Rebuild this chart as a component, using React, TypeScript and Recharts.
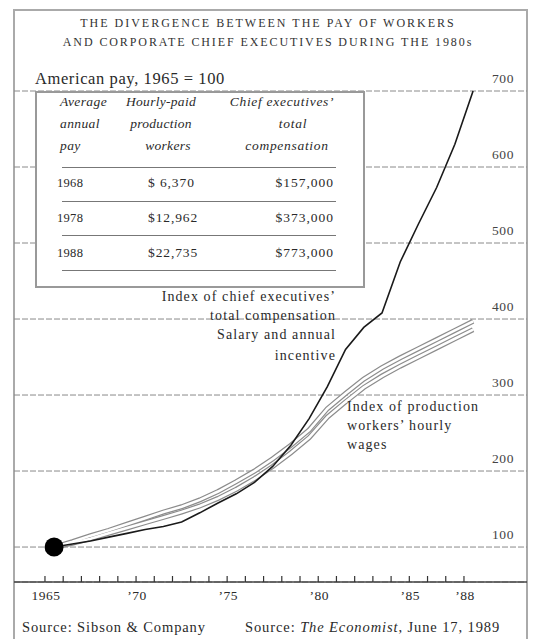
import React from 'react';
import {
  LineChart, Line, XAxis, YAxis, CartesianGrid, ReferenceDot,
} from 'recharts';

// Index values, 1965 = 100
const YEARS = [1965, 1966, 1967, 1968, 1969, 1970, 1971, 1972, 1973, 1974, 1975, 1976,
  1977, 1978, 1979, 1980, 1981, 1982, 1983, 1984, 1985, 1986, 1987, 1988];
const CEO_TOTAL = [100, 104, 108, 113, 118, 123, 127, 133, 145, 158, 170, 185,
  206, 234, 269, 311, 360, 389, 408, 475, 525, 573, 630, 700];
const SALARY_INCENTIVE = [100, 107, 115, 122, 130, 138, 146, 153, 162, 173, 186, 200,
  216, 234, 254, 282, 302, 321, 336, 349, 361, 373, 385, 397];
const WORKER_WAGES = [100, 105, 111, 118, 125, 132, 139, 146, 154, 164, 176, 190,
  206, 224, 244, 271, 291, 310, 325, 338, 350, 362, 374, 386];

// year ticks sit at the start of each year, points in the middle of it
const TICK_YEARS = [1964.5, 1965.5, 1966.5, 1967.5, 1968.5, 1969.5, 1970.5, 1971.5,
  1972.5, 1973.5, 1974.5, 1975.5, 1976.5, 1977.5, 1978.5, 1979.5, 1980.5, 1981.5,
  1982.5, 1983.5, 1984.5, 1985.5, 1986.5, 1987.5];
const TICK_LABELS: Record<string, string> = {
  '1964.5': '1965', '1969.5': '’70', '1974.5': '’75',
  '1979.5': '’80', '1984.5': '’85', '1987.5': '’88',
};
const Y_TICKS = [100, 200, 300, 400, 500, 600, 700];

// Inset table
const TABLE_YEARS = ['1968', '1978', '1988'];
const WORKER_PAY = ['$ 6,370', '$12,962', '$22,735'];
const CEO_PAY = ['$157,000', '$373,000', '$773,000'];

const data = YEARS.map((year, i) => ({
  year,
  ceo: CEO_TOTAL[i],
  salary: SALARY_INCENTIVE[i],
  workers: WORKER_WAGES[i],
}));

const SERIF = '"Liberation Serif", "DejaVu Serif", serif';
const INK = '#2a2a2a';

function Txt({ x, y, anchor = 'start', size = 14, italic = false, ls = 0.8, style, children }: any) {
  const tx = anchor === 'middle' ? '-50%' : anchor === 'end' ? '-100%' : '0';
  return (
    <div style={{
      position: 'absolute', left: x, top: y, transform: `translate(${tx}, -50%)`,
      fontFamily: SERIF, fontSize: size, fontStyle: italic ? 'italic' : 'normal',
      letterSpacing: ls, color: INK, whiteSpace: 'nowrap', lineHeight: 1, ...style,
    }}>
      {children}
    </div>
  );
}

function XTick({ x, y, payload }: any) {
  const label = TICK_LABELS[String(payload.value)];
  return (
    <g>
      <line x1={x} y1={y - 6} x2={x} y2={y} stroke="#333" strokeWidth={1.2} />
      {label && (
        <text x={x + 1} y={y + 18} textAnchor="middle" fontFamily={SERIF} fontSize={13.5}
          letterSpacing={0.5} fill={INK}>
          {label}
        </text>
      )}
    </g>
  );
}

function YTick({ x, y, payload }: any) {
  return (
    <text x={x - 13} y={y - 8} textAnchor="end" fontFamily={SERIF} fontSize={13.5}
      letterSpacing={0.6} fill="#444">
      {payload.value}
    </text>
  );
}

export default function App() {
  const ruleStyle = { position: 'absolute' as const, left: 62, width: 274, height: 0, borderTop: '1.5px solid #777' };
  return (
    <div style={{ position: 'absolute', left: 0, top: 0, width: 536, height: 639, background: '#fff', overflow: 'hidden' }}>
      {/* frame */}
      <div style={{
        position: 'absolute', left: 13, top: 9, width: 511, height: 640,
        border: '2px solid #aaa', borderBottom: 'none',
      }} />

      <div style={{ position: 'absolute', left: 0, top: 0 }}>
        <LineChart width={536} height={639} data={data} margin={{ top: 91, right: 0, bottom: 27, left: 14 }}>
          <CartesianGrid vertical={false} stroke="#8a8a8a" strokeDasharray="6 2" />
          <XAxis
            dataKey="year" type="number" domain={[1962.8, 1990.96]} allowDataOverflow
            ticks={TICK_YEARS} interval={0} height={30} tickSize={0} tickMargin={0}
            tickLine={false} axisLine={{ stroke: '#444', strokeWidth: 1.5 }} tick={<XTick />}
          />
          <YAxis
            orientation="right" type="number" domain={[54, 700]} ticks={Y_TICKS} width={9}
            tickSize={0} tickMargin={0} tickLine={false} axisLine={false} tick={<YTick />}
          />
          <Line dataKey="salary" stroke="#8c8c8c" strokeWidth={5} dot={false} isAnimationActive={false} />
          <Line dataKey="workers" stroke="#8c8c8c" strokeWidth={5} dot={false} isAnimationActive={false} />
          <Line dataKey="salary" stroke="#fff" strokeWidth={2.6} dot={false} isAnimationActive={false} />
          <Line dataKey="workers" stroke="#fff" strokeWidth={2.6} dot={false} isAnimationActive={false} />
          <Line dataKey="ceo" stroke="#1a1a1a" strokeWidth={1.6} dot={false} isAnimationActive={false} />
          <ReferenceDot x={YEARS[0]} y={CEO_TOTAL[0]} r={9.5} fill="#000" stroke="none" />
        </LineChart>
      </div>

      {/* title */}
      <Txt x={268} y={23} anchor="middle" size={12} ls={2} style={{ color: '#333' }}>
        THE DIVERGENCE BETWEEN THE PAY OF WORKERS
      </Txt>
      <Txt x={268} y={42} anchor="middle" size={12} ls={1.9} style={{ color: '#333' }}>
        AND CORPORATE CHIEF EXECUTIVES DURING THE 1980s
      </Txt>
      <Txt x={35} y={79} size={16.5} ls={0.6}>American pay, 1965 = 100</Txt>

      {/* inset table */}
      <div style={{
        position: 'absolute', left: 35, top: 91, width: 326, height: 193,
        border: '2px solid #999', background: '#fff',
      }} />
      <Txt x={60} y={102} size={13.5} ls={0.4} italic>Average</Txt>
      <Txt x={60} y={124} size={13.5} ls={0.4} italic>annual</Txt>
      <Txt x={60} y={146} size={13.5} ls={0.4} italic>pay</Txt>
      <Txt x={161} y={102} anchor="middle" size={13.5} ls={0.3} italic>Hourly-paid</Txt>
      <Txt x={161} y={124} anchor="middle" size={13.5} ls={0.3} italic>production</Txt>
      <Txt x={168} y={146} anchor="middle" size={13.5} ls={0.3} italic>workers</Txt>
      <Txt x={282} y={102} anchor="middle" size={13.5} ls={0.7} italic>Chief executives’</Txt>
      <Txt x={293} y={124} anchor="middle" size={13.5} ls={0.7} italic>total</Txt>
      <Txt x={287} y={146} anchor="middle" size={13.5} ls={0.7} italic>compensation</Txt>
      <div style={{ ...ruleStyle, top: 167 }} />
      <div style={{ ...ruleStyle, top: 201 }} />
      <div style={{ ...ruleStyle, top: 235 }} />
      <div style={{ ...ruleStyle, top: 270 }} />
      {TABLE_YEARS.map((yr, i) => (
        <React.Fragment key={yr}>
          <Txt x={57} y={183 + i * 35} size={12.5} ls={0.3}>{yr}</Txt>
          <Txt x={148} y={183 + i * 35} size={13.5} ls={0.9}>{WORKER_PAY[i]}</Txt>
          <Txt x={334} y={183 + i * 35} anchor="end" size={13.5} ls={1}>{CEO_PAY[i]}</Txt>
        </React.Fragment>
      ))}

      {/* series labels */}
      <Txt x={336} y={297} anchor="end" ls={1.1}>Index of chief executives’</Txt>
      <Txt x={336} y={316} anchor="end" ls={1.1}>total compensation</Txt>
      <Txt x={336} y={335} anchor="end" ls={1.1}>Salary and annual</Txt>
      <Txt x={336} y={356} anchor="end" ls={1.1}>incentive</Txt>
      <Txt x={347} y={407} ls={1.1}>Index of production</Txt>
      <Txt x={347} y={426} ls={1.1}>workers’ hourly</Txt>
      <Txt x={347} y={445} ls={1.1}>wages</Txt>

      {/* sources */}
      <Txt x={22} y={627} size={14.5} ls={0.9}>Source: Sibson &amp; Company</Txt>
      <Txt x={245} y={627} size={14.5} ls={0.9}>Source: <i>The Economist</i>, June 17, 1989</Txt>
    </div>
  );
}
